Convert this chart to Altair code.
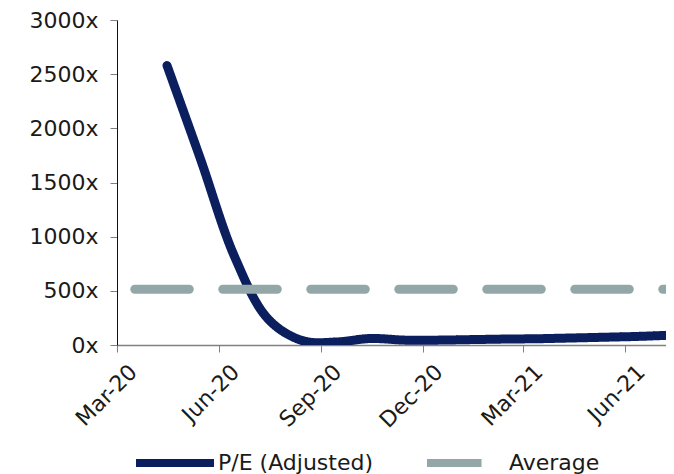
import altair as alt
import pandas as pd

# P/E (Adjusted) series, mid-month observations
pe_dates = ["2020-04-15", "2020-05-15", "2020-06-15", "2020-07-15", "2020-08-15",
            "2020-09-15", "2020-10-15", "2020-11-15", "2020-12-15", "2021-01-15",
            "2021-02-15", "2021-03-15", "2021-04-15", "2021-05-15", "2021-06-15",
            "2021-07-15"]
pe_values = [2580, 1720, 810, 240, 40, 28, 60, 45, 45, 50, 55, 58, 65, 72, 80, 92]

# Average line
avg_dates = ["2020-03-17", "2021-07-15"]
avg_values = [515, 515]

series_names = ["P/E (Adjusted)", "Average"]
series_colors = ["#0B1F5E", "#93A6A8"]
y_ticks = [0, 500, 1000, 1500, 2000, 2500, 3000]

df = pd.concat([
    pd.DataFrame({"date": pe_dates, "value": pe_values, "series": series_names[0]}),
    pd.DataFrame({"date": avg_dates, "value": avg_values, "series": series_names[1]}),
])

FONT = "DejaVu Sans"
TXT = "#1a1a1a"

x_ticks = [alt.DateTime(year=2020, month=m, date=1, utc=True) for m in (3, 6, 9, 12)] + \
          [alt.DateTime(year=2021, month=m, date=1, utc=True) for m in (3, 6)]

chart = alt.Chart(df).mark_line(
    interpolate="catmull-rom", strokeWidth=9, strokeCap="round", clip=True
).encode(
    x=alt.X("date:T",
            scale=alt.Scale(type="utc",
                            domain=[alt.DateTime(year=2020, month=3, date=1, utc=True),
                                    alt.DateTime(year=2021, month=7, date=8, utc=True)]),
            axis=alt.Axis(title=None, values=x_ticks,
                          labelExpr="utcFormat(datum.value, '%b-%y')",
                          labelAngle=315, labelAlign="right", labelBaseline="top",
                          labelFontSize=22, labelFont=FONT, labelColor=TXT,
                          labelPadding=9, labelOffset=9, tickSize=7, tickColor="#808080",
                          domainColor="#808080", domainWidth=1.5, grid=False,
                          labelOverlap=False)),
    y=alt.Y("value:Q",
            scale=alt.Scale(domain=[0, 3000], nice=False),
            axis=alt.Axis(title=None, values=y_ticks, labelExpr="datum.value + 'x'",
                          labelFontSize=22, labelFont=FONT, labelColor=TXT,
                          labelPadding=12, tickSize=7, tickColor="#808080",
                          domainColor="#111111", grid=False)),
    color=alt.Color("series:N",
                    scale=alt.Scale(domain=series_names, range=series_colors),
                    legend=alt.Legend(title=None, orient="none", legendX=15, legendY=400,
                                      direction="horizontal", columns=2,
                                      symbolType="stroke", symbolSize=6084,
                                      symbolStrokeWidth=8, labelFontSize=22,
                                      labelFont=FONT, labelColor=TXT, labelOffset=0,
                                      columnPadding=37)),
    strokeDash=alt.StrokeDash("series:N",
                              scale=alt.Scale(domain=series_names, range=[[1, 0], [54.5, 33.5]]),
                              legend=None),
).properties(
    width=549, height=325,
    autosize=alt.AutoSizeParams(type="none"),
    padding={"left": 109, "top": 12, "right": 0, "bottom": 129},
).configure_view(stroke=None)

chart.save("out.html", embed_options={"renderer": "svg", "actions": False})
